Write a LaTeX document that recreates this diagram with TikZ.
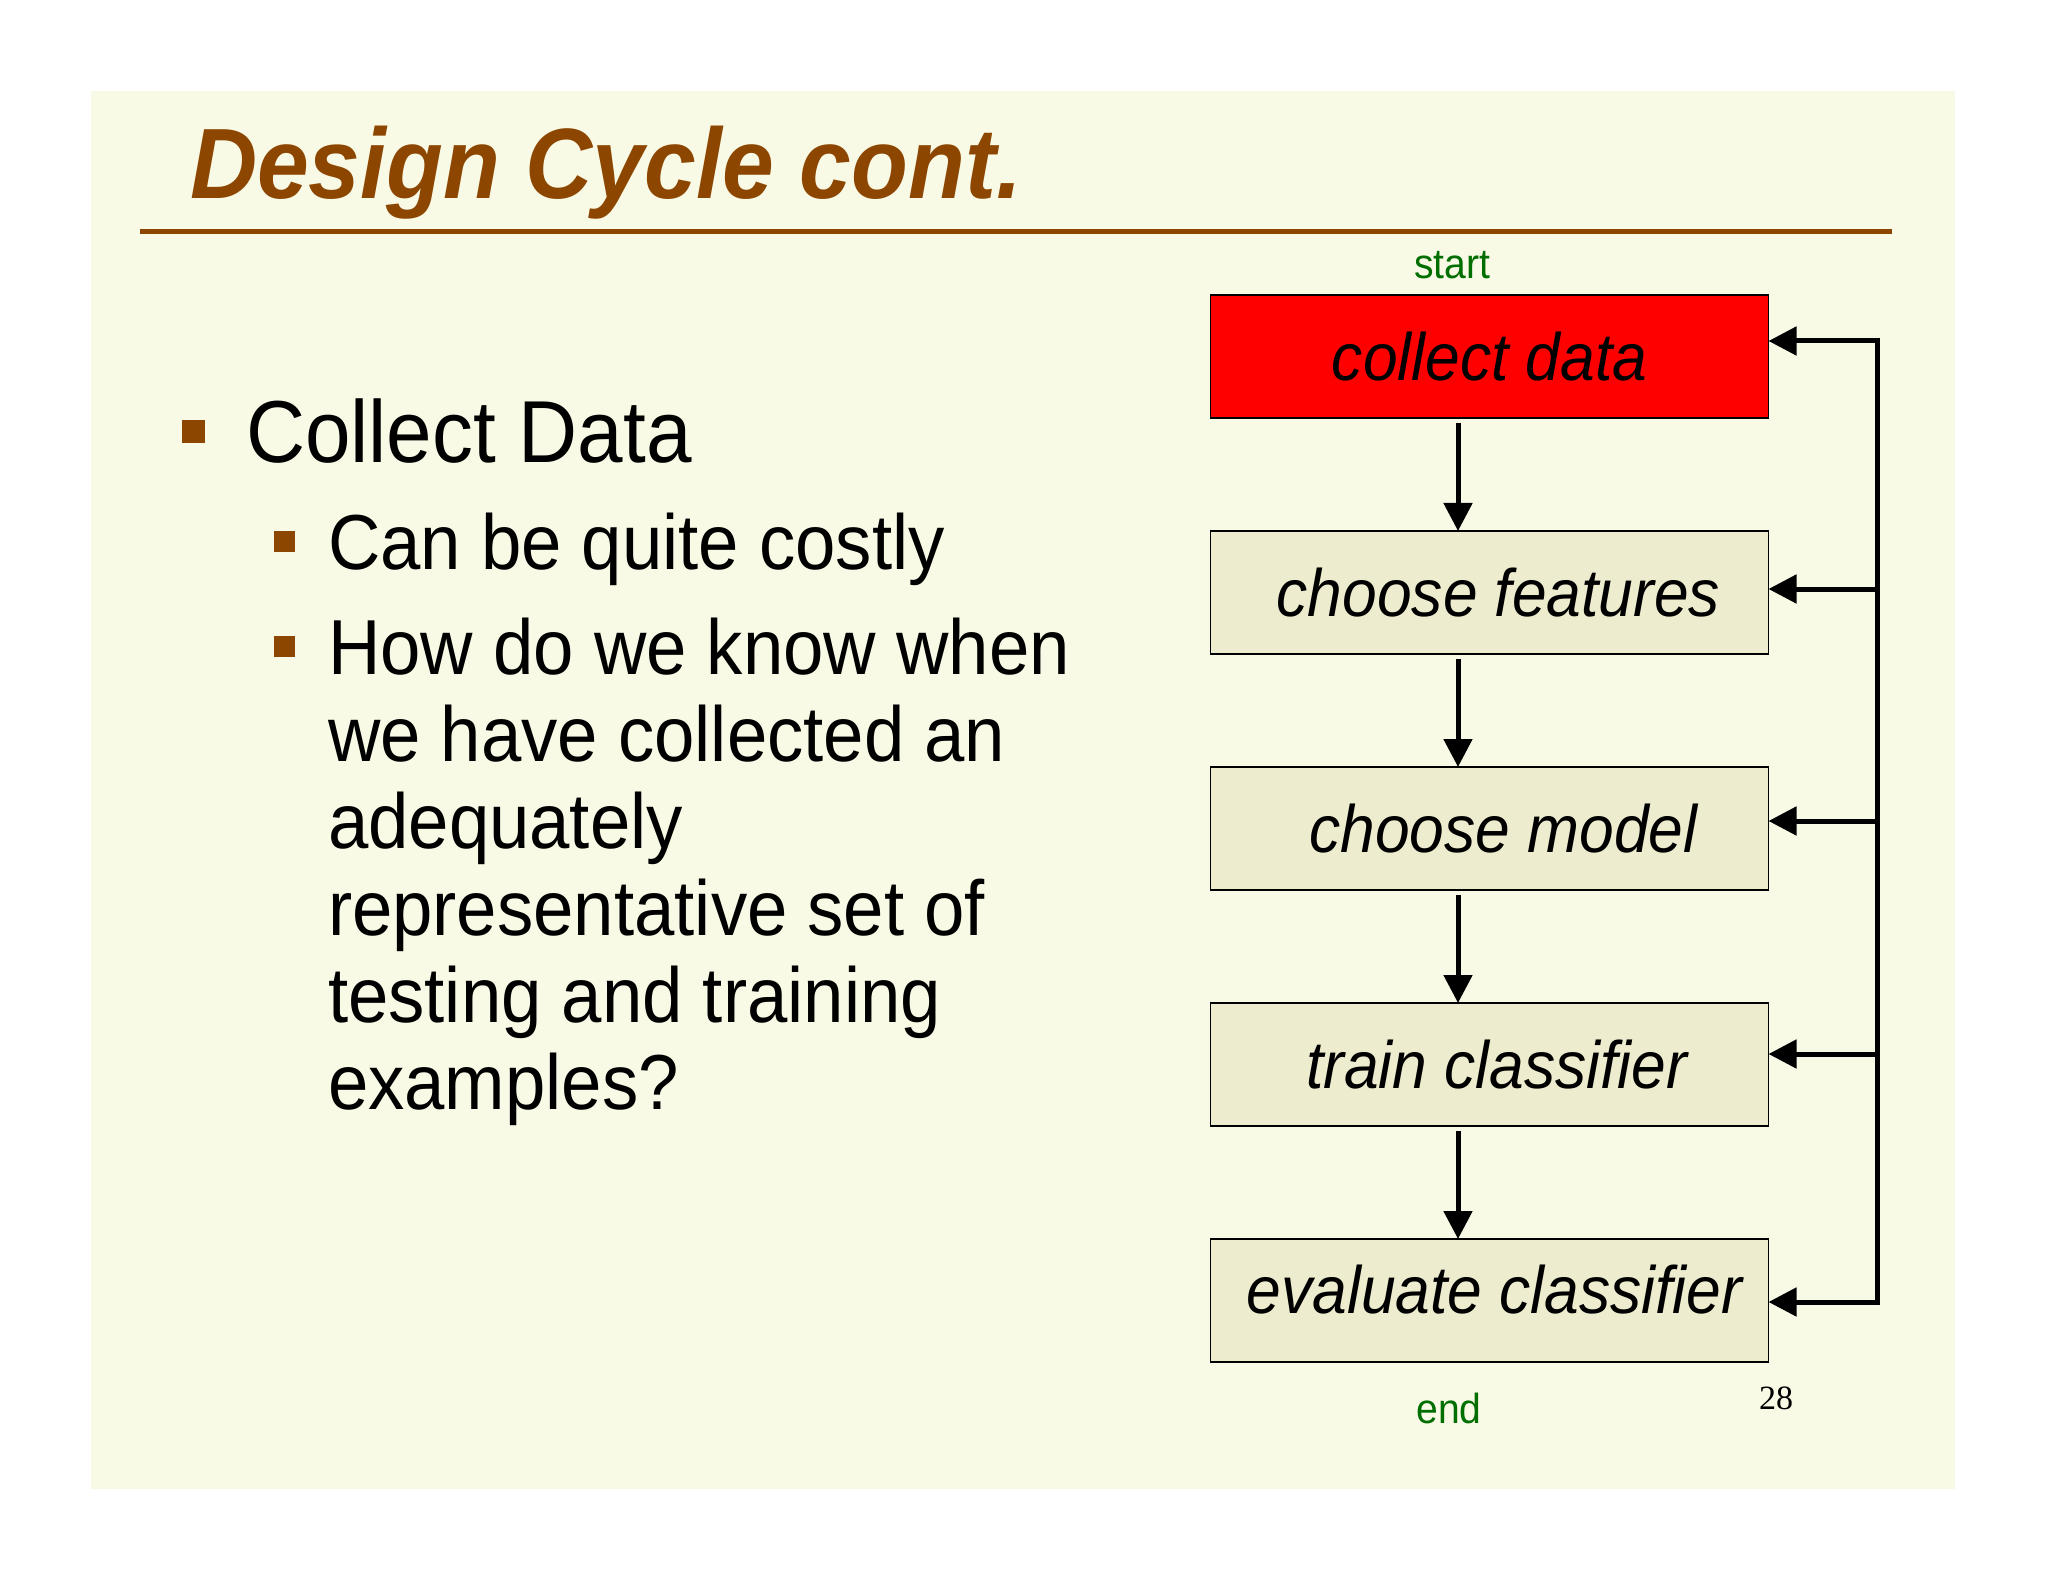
\documentclass[tikz,border=0pt]{standalone}
\usepackage{fontspec}
\setmainfont{Liberation Sans}[FakeStretch=0.93]
\newfontfamily\titlefont{Liberation Sans}[FakeStretch=0.93]
\newfontfamily\pagefont{Liberation Serif}
\usetikzlibrary{positioning,arrows.meta}
\definecolor{slidebg}{RGB}{249,250,230}
\definecolor{boxfill}{RGB}{238,236,206}
\definecolor{slidebrown}{RGB}{140,70,0}
\definecolor{tagGreen}{RGB}{0,110,0}

\begin{document}
\begin{tikzpicture}[x=0.5pt,y=-0.5pt,
every node/.style={inner sep=0pt, outer sep=0pt},
stepbox/.style={draw=black, line width=0.8pt, fill=boxfill, minimum width=279pt, minimum height=61.5pt,
        font=\fontsize{33.5}{36}\selectfont\itshape},
tag/.style={anchor=base, text=tagGreen, font=\fontsize{21}{24}\selectfont},
bullet/.style={fill=slidebrown, minimum size=#1},
flow/.style={line width=2.5pt, shorten <=2.5pt, -{Triangle[length=14pt,width=14pt]}},
back/.style={line width=2.5pt, -{Triangle[length=14pt,width=14pt]}}
]
  \useasboundingbox[fill=white] (0,0) rectangle (2048,1582);
  \fill[slidebg] (91,91) rectangle (1955,1489);

  \node[anchor=base west, text=slidebrown, font=\titlefont\bfseries\itshape\fontsize{50}{60}\selectfont]
      (title) at (190,199) {Design Cycle cont.};
  \draw[slidebrown, line width=2.5pt] (140,232) -- (1892,232);

  \node[bullet=11.5pt] (p1) at (193,432) {};
  \node[anchor=base west, font=\fontsize{44}{50}\selectfont] (l1) at (246,463) {Collect Data};
  \node[bullet=10.5pt] (p2) at (284,542) {};
  \node[bullet=10.5pt] (p3) at (284,646) {};
  \foreach \t [count=\i from 0] in {Can be quite costly, How do we know when, we have collected an,
      adequately, representative set of, testing and training, examples?}
    \node[anchor=base west, font=\fontsize{39}{44}\selectfont] (l2-\i) at (328,{570+\i*87+(\i>0)*17}) {\t};

  \node[stepbox, fill=red] (b1) at (1489.5,356.5) {collect data};
  \node[stepbox, below=56.5pt of b1] (b2) {\hspace*{9pt}choose features};
  \node[stepbox, below=56.5pt of b2] (b3) {\hspace*{14pt}choose model};
  \node[stepbox, below=56.5pt of b3] (b4) {\hspace*{7pt}train classifier};
  \node[stepbox, below=56.5pt of b4, text depth=11pt] (b5) {\hspace*{5pt}evaluate classifier};

  \node[tag] (start) at (1452,279) {start};
  \node[tag] (end) at (1449,1423) {end};
  \node[anchor=base, font=\pagefont\fontsize{17}{20}\selectfont] (page) at (1776,1409) {28};

  \foreach \a/\b in {b1/b2,b2/b3,b3/b4,b4/b5}
    \draw[flow] ([xshift=-15.75pt]\a.south) -- ([xshift=-15.75pt]\b.north);

  \coordinate (f1) at (1877,341);
  \coordinate (f2) at (1877,589);
  \coordinate (f3) at (1877,821);
  \coordinate (f4) at (1877,1054);
  \coordinate (f5) at (1877,1302);
  \draw[back, {Triangle[length=14pt,width=14pt]}-{Triangle[length=14pt,width=14pt]}]
      (f1 -| b1.east) -- (f1) -- (f5) -- (f5 -| b5.east);
  \foreach \n in {2,3,4}
    \draw[back] (f\n) -- (f\n -| b\n.east);
\end{tikzpicture}
\end{document}
